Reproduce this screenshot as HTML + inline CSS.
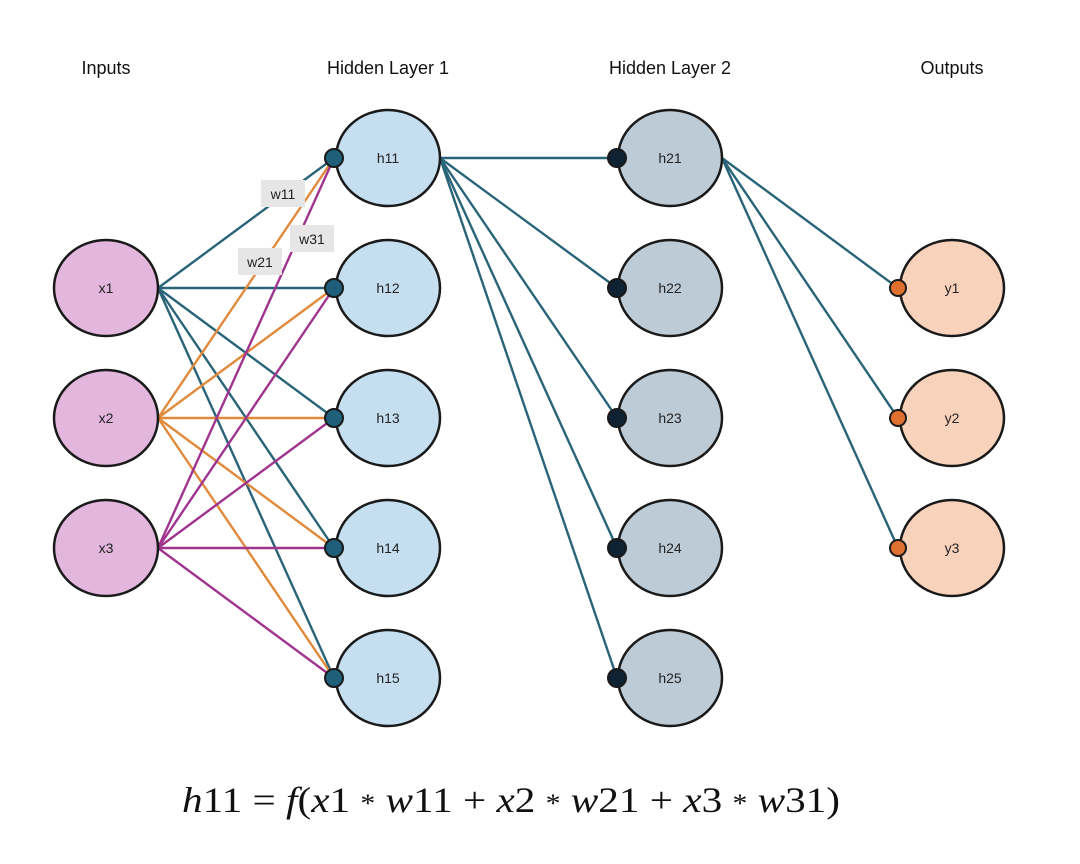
<!DOCTYPE html>
<html><head><meta charset="utf-8"><style>
html,body{margin:0;padding:0;background:#fff;}
svg{display:block;}
</style></head><body>
<svg width="1080" height="864" viewBox="0 0 1080 864" xmlns="http://www.w3.org/2000/svg" font-family="Liberation Sans, sans-serif">
<rect width="1080" height="864" fill="#fff"/>
<g font-size="18" fill="#111" text-anchor="middle">
<text x="106" y="74">Inputs</text>
<text x="388" y="74">Hidden Layer 1</text>
<text x="670" y="74">Hidden Layer 2</text>
<text x="952" y="74">Outputs</text>
</g>
<g stroke-width="2.4" fill="none">
<g stroke="#2a6478">
<line x1="158" y1="288" x2="334" y2="158"/><line x1="158" y1="288" x2="334" y2="288"/><line x1="158" y1="288" x2="334" y2="418"/><line x1="158" y1="288" x2="334" y2="548"/><line x1="158" y1="288" x2="334" y2="678"/>
</g>
<g stroke="#e08a3c">
<line x1="158" y1="418" x2="334" y2="158"/><line x1="158" y1="418" x2="334" y2="288"/><line x1="158" y1="418" x2="334" y2="418"/><line x1="158" y1="418" x2="334" y2="548"/><line x1="158" y1="418" x2="334" y2="678"/>
</g>
<g stroke="#a0358f">
<line x1="158" y1="548" x2="334" y2="158"/><line x1="158" y1="548" x2="334" y2="288"/><line x1="158" y1="548" x2="334" y2="418"/><line x1="158" y1="548" x2="334" y2="548"/><line x1="158" y1="548" x2="334" y2="678"/>
</g>
<g stroke="#2a6478">
<line x1="440" y1="158" x2="617" y2="158"/><line x1="440" y1="158" x2="617" y2="288"/><line x1="440" y1="158" x2="617" y2="418"/><line x1="440" y1="158" x2="617" y2="548"/><line x1="440" y1="158" x2="617" y2="678"/>
<line x1="722" y1="158" x2="898" y2="288"/><line x1="722" y1="158" x2="898" y2="418"/><line x1="722" y1="158" x2="898" y2="548"/>
</g>
</g>
<g stroke="#1a1a1a" stroke-width="2.5">
<ellipse cx="106" cy="288" rx="52" ry="48" fill="#e2b6dd"/><ellipse cx="106" cy="418" rx="52" ry="48" fill="#e2b6dd"/><ellipse cx="106" cy="548" rx="52" ry="48" fill="#e2b6dd"/>
<ellipse cx="388" cy="158" rx="52" ry="48" fill="#c5dff0"/><ellipse cx="388" cy="288" rx="52" ry="48" fill="#c5dff0"/><ellipse cx="388" cy="418" rx="52" ry="48" fill="#c5dff0"/><ellipse cx="388" cy="548" rx="52" ry="48" fill="#c5dff0"/><ellipse cx="388" cy="678" rx="52" ry="48" fill="#c5dff0"/>
<ellipse cx="670" cy="158" rx="52" ry="48" fill="#bccbd6"/><ellipse cx="670" cy="288" rx="52" ry="48" fill="#bccbd6"/><ellipse cx="670" cy="418" rx="52" ry="48" fill="#bccbd6"/><ellipse cx="670" cy="548" rx="52" ry="48" fill="#bccbd6"/><ellipse cx="670" cy="678" rx="52" ry="48" fill="#bccbd6"/>
<ellipse cx="952" cy="288" rx="52" ry="48" fill="#f9d2bb"/><ellipse cx="952" cy="418" rx="52" ry="48" fill="#f9d2bb"/><ellipse cx="952" cy="548" rx="52" ry="48" fill="#f9d2bb"/>
</g>
<g stroke="#1a1a1a" stroke-width="2">
<g fill="#1f5f7a"><circle cx="334" cy="158" r="9"/><circle cx="334" cy="288" r="9"/><circle cx="334" cy="418" r="9"/><circle cx="334" cy="548" r="9"/><circle cx="334" cy="678" r="9"/></g>
<g fill="#0f2233"><circle cx="617" cy="158" r="9"/><circle cx="617" cy="288" r="9"/><circle cx="617" cy="418" r="9"/><circle cx="617" cy="548" r="9"/><circle cx="617" cy="678" r="9"/></g>
<g fill="#e07030"><circle cx="898" cy="288" r="8"/><circle cx="898" cy="418" r="8"/><circle cx="898" cy="548" r="8"/></g>
</g>
<g fill="#e6e6e6"><rect x="261" y="180" width="44" height="27"/><rect x="290" y="225" width="44" height="27"/><rect x="238" y="248" width="44" height="27"/></g>
<g font-size="14" fill="#222" text-anchor="middle">
<text x="283" y="199">w11</text><text x="312" y="244">w31</text><text x="260" y="267">w21</text>
<text x="106" y="293">x1</text><text x="106" y="423">x2</text><text x="106" y="553">x3</text>
<text x="388" y="163">h11</text><text x="388" y="293">h12</text><text x="388" y="423">h13</text><text x="388" y="553">h14</text><text x="388" y="683">h15</text>
<text x="670" y="163">h21</text><text x="670" y="293">h22</text><text x="670" y="423">h23</text><text x="670" y="553">h24</text><text x="670" y="683">h25</text>
<text x="952" y="293">y1</text><text x="952" y="423">y2</text><text x="952" y="553">y3</text>
</g>
<text x="182" y="812" font-family="Liberation Serif, serif" font-size="36" fill="#111" textLength="658" lengthAdjust="spacingAndGlyphs"><tspan font-style="italic">h</tspan>11 = <tspan font-style="italic">f</tspan>(<tspan font-style="italic">x</tspan>1  <tspan font-size="26">*</tspan> <tspan font-style="italic">w</tspan>11 + <tspan font-style="italic">x</tspan>2  <tspan font-size="26">*</tspan> <tspan font-style="italic">w</tspan>21 + <tspan font-style="italic">x</tspan>3  <tspan font-size="26">*</tspan> <tspan font-style="italic">w</tspan>31)</text>
</svg>
</body></html>
